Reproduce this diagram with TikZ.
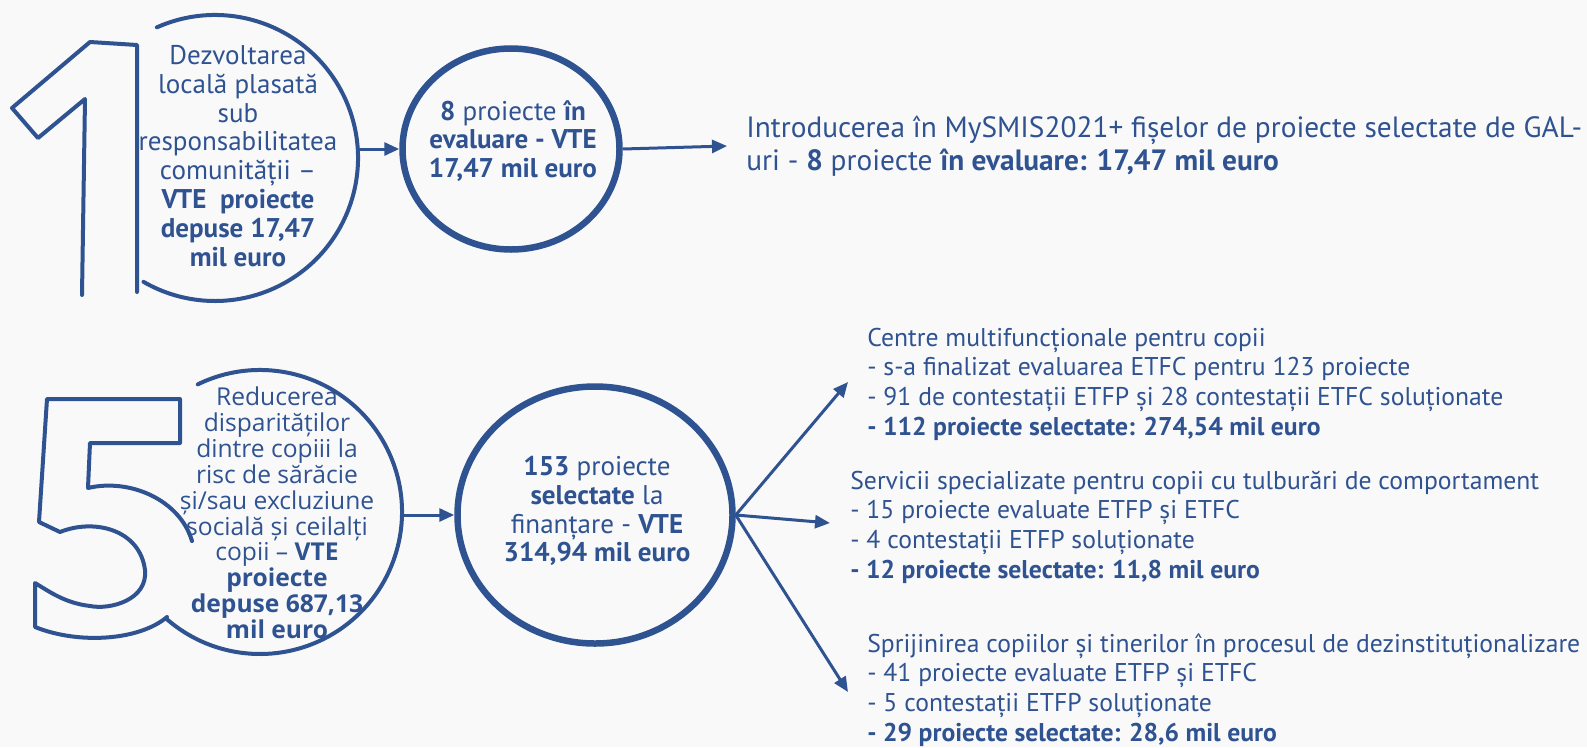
\documentclass[tikz,border=0pt]{standalone}
\usepackage{fontspec}
\setmainfont{PT Sans}
\newfontfamily\opensans{Open Sans}
\usetikzlibrary{arrows.meta,shapes.geometric}
\definecolor{navy}{RGB}{47,82,145}
\definecolor{paper}{RGB}{249,249,250}
\tikzset{
  digit/.style={draw=navy,line width=0.8mm,line join=round,line cap=round},
  hub/.style={circle,minimum size=#1,inner sep=0pt,outer sep=0pt},
  ring/.style={ellipse,draw=navy,line width=1.3mm,inner sep=0pt},
  arr/.style={navy,line width=0.6mm,-{Triangle[length=3mm,width=2.6mm]}},
  txt/.style={text=navy,font=\fontsize{15.4}{16.4}\selectfont,align=center,inner sep=0pt},
  side/.style={text=navy,font=\fontsize{14.6}{16.9}\selectfont,align=left,anchor=west,inner sep=0pt}
}
\begin{document}
\begin{tikzpicture}[x=0.2mm,y=-0.2mm]
  \useasboundingbox (0,0) rectangle (1587,747);
  \fill[paper] (0,0) rectangle (1587,747);
  \draw[digit] (82,295) -- (85,99) -- (38,138) -- (12,108) -- (90,42) -- (137,45) -- (137,292);
  \node[hub=57.2mm] (onering) at (215,158) {};
  \draw[digit] (onering.114) arc[start angle=114,end angle=-120,radius=28.6mm];
  \node[txt] (onetxt) at (238,156) {Dezvoltarea\\locală plasată\\sub\\responsabilitatea\\comunității –\\\textbf{VTE~ proiecte}\\\textbf{depuse 17,47}\\\textbf{mil euro}};
  \node[ring,minimum width=43.4mm,minimum height=40.2mm] (eval) at (511,149) {};
  \node[txt] (evaltxt) at (513,141) {\textbf{8} proiecte \textbf{în}\\\textbf{evaluare - VTE}\\\textbf{17,47 mil euro}};
  \node[side,inner xsep=3.8mm,font=\fontsize{16.7}{19}\selectfont] (gal) at (727,146) {Introducerea în MySMIS2021+ fișelor de proiecte selectate de GAL-\\uri - \textbf{8} proiecte \textbf{în evaluare: 17,47 mil euro}};
  \draw[arr] (onering.east |- eval.west) -- (eval.west);
  \draw[arr] (eval.east) -- (gal.west);

  \draw[digit] (192,541) .. controls (180,500) and (130,478) .. (88,488) -- (90,443) -- (180,443) -- (180,399) -- (47,399) -- (39,522) -- (60,532)
    .. controls (95,518) and (140,530) .. (145,570) .. controls (148,600) and (110,610) .. (90,606)
    .. controls (65,603) and (50,592) .. (35,583) -- (35,627) .. controls (80,645) and (140,640) .. (167,617);
  \node[hub=56.8mm] (fivering) at (260,512) {};
  \draw[digit] (fivering.116) arc[start angle=116,end angle=-131,radius=28.4mm];
  \node[txt,font=\opensans\fontsize{14}{14.7}\selectfont] (fivetxt) at (277,513) {Reducerea\\disparităților\\dintre copiii la\\risc de sărăcie\\și/sau excluziune\\socială și ceilalți\\copii – \textbf{VTE}\\\textbf{proiecte}\\\textbf{depuse 687,13}\\\textbf{mil euro}};
  \node[ring,minimum width=55mm,minimum height=51.4mm] (sel) at (595,515) {};
  \node[txt] (seltxt) at (597,511) {\textbf{153} proiecte\\\textbf{selectate} la\\finanțare - \textbf{VTE}\\\textbf{314,94 mil euro}};
  \draw[arr] (fivering.east |- sel.west) -- (sel.west);
  \coordinate (tipa) at (848,382);
  \coordinate (tipb) at (830,523);
  \coordinate (tipc) at (848,692);
  \foreach \t in {tipa,tipb,tipc}
    \draw[arr] (sel.east) -- (\t);
  \node[side] (centre) at (867,384) {Centre multifuncționale pentru copii\\- s-a finalizat evaluarea ETFC pentru 123 proiecte\\- 91 de contestații ETFP și 28 contestații ETFC soluționate\\\textbf{- 112 proiecte selectate: 274,54 mil euro}};
  \node[side] (servicii) at (850,527) {Servicii specializate pentru copii cu tulburări de comportament\\- 15 proiecte evaluate ETFP și ETFC\\- 4 contestații ETFP soluționate\\\textbf{- 12 proiecte selectate: 11,8 mil euro}};
  \node[side] (sprijin) at (867,690) {Sprijinirea copiilor și tinerilor în procesul de dezinstituționalizare\\- 41 proiecte evaluate ETFP și ETFC\\- 5 contestații ETFP soluționate\\\textbf{- 29 proiecte selectate: 28,6 mil euro}};
\end{tikzpicture}
\end{document}
